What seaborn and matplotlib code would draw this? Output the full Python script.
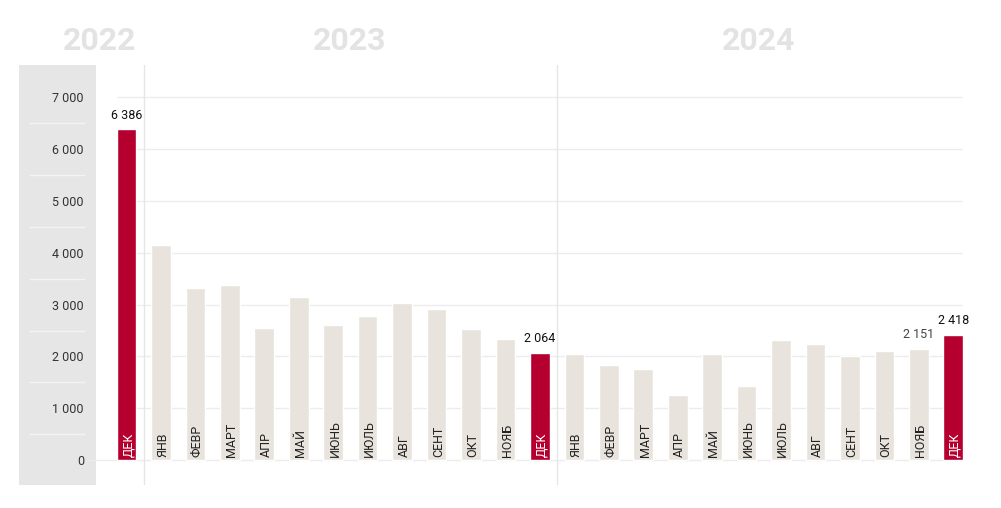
import numpy as np
import pandas as pd
import matplotlib
matplotlib.use("Agg")
import matplotlib.pyplot as plt
import seaborn as sns

# ---- data ----
months = ["ДЕК",
          "ЯНВ", "ФЕВР", "МАРТ", "АПР", "МАЙ", "ИЮНЬ", "ИЮЛЬ", "АВГ", "СЕНТ", "ОКТ", "НОЯБ", "ДЕК",
          "ЯНВ", "ФЕВР", "МАРТ", "АПР", "МАЙ", "ИЮНЬ", "ИЮЛЬ", "АВГ", "СЕНТ", "ОКТ", "НОЯБ", "ДЕК"]
years = [2022] + [2023] * 12 + [2024] * 12
values = [6386,
          4150, 3330, 3380, 2550, 3150, 2600, 2780, 3030, 2920, 2520, 2330, 2064,
          2050, 1840, 1750, 1250, 2050, 1420, 2320, 2230, 2010, 2110, 2151, 2418]
labeled_idx = [0, 12, 23, 24]
year_labels = ["2022", "2023", "2024"]
y_ticks = [0, 1000, 2000, 3000, 4000, 5000, 6000, 7000]

RED = "#b5002f"
BEIGE = "#e8e4dd"

df = pd.DataFrame({
    "key": [f"{m} {y}" for m, y in zip(months, years)],
    "month": months,
    "year": years,
    "value": values,
})
df["kind"] = np.where(df["month"] == "ДЕК", "dec", "other")

sns.set_theme(style="white")
plt.rcParams["font.family"] = ["Roboto", "DejaVu Sans"]

W, H = 1001, 508
fig = plt.figure(figsize=(W / 100, H / 100), dpi=100)
fig.patch.set_facecolor("white")

# axes in pixel geometry
ax_left_px, ax_right_px, ax_top_px, ax_bot_px = 19, 975, 65, 485
ax = fig.add_axes([ax_left_px / W, (H - ax_bot_px) / H,
                   (ax_right_px - ax_left_px) / W, (ax_bot_px - ax_top_px) / H])
ax.set_facecolor("white")

sns.barplot(data=df, x="key", y="value", hue="kind", order=list(df["key"]),
            palette={"dec": RED, "other": BEIGE}, dodge=False, legend=False,
            width=0.57, saturation=1, ax=ax, zorder=3)

# scale geometry
x0_px, step_px = 126.5, 34.45
zero_px, px_per_1000 = 460, 51.8
def px2x(p):
    return (p - x0_px) / step_px
def px2y(p):
    return (zero_px - p) / px_per_1000 * 1000

ax.set_xlim(px2x(ax_left_px), px2x(ax_right_px))
ax.set_ylim(px2y(ax_bot_px), px2y(ax_top_px))

# grey panel on the left
ax.axvspan(px2x(ax_left_px), px2x(96), color="#e6e6e6", zorder=0, lw=0)
ax.hlines([t + 500 for t in y_ticks[:-1]], px2x(29), px2x(85),
          color="#f3f3f3", lw=1, zorder=1)

# grid lines
ax.hlines(y_ticks[1:], px2x(117), px2x(962), color="#ececec", lw=1, zorder=1)
ax.hlines([0], px2x(88), px2x(962), color="#ececec", lw=1, zorder=1)
ax.axvline(0.5, color="#e6e6e6", lw=1, zorder=1)
ax.axvline(12.5, color="#e6e6e6", lw=1, zorder=1)

# y ticks (labels inside grey panel)
ax.set_yticks(y_ticks)
ax.set_yticklabels([f"{t:,}".replace(",", " ") for t in y_ticks])
ax.tick_params(axis="y", length=0, pad=-46.8, labelsize=9, labelcolor="#333333")
for lbl in ax.get_yticklabels():
    lbl.set_horizontalalignment("right")
ax.set_xticks([])
ax.set_xlabel("")
ax.set_ylabel("")
for s in ax.spines.values():
    s.set_visible(False)

# month labels inside bars
for i, (m, k) in enumerate(zip(df["month"], df["kind"])):
    ax.annotate(m, (i, px2y(457)), xytext=(1.3, 0), textcoords="offset points",
                rotation=90, ha="center", va="bottom",
                fontsize=9, color="white" if k == "dec" else "#222222", zorder=5)

# value labels
for i in labeled_idx:
    v = values[i]
    ax.annotate(f"{v:,}".replace(",", " "), (i, v), xytext=(0, 5.5),
                textcoords="offset points", ha="center", va="bottom",
                fontsize=9, color="#444444" if i == 23 else "#111111", zorder=5)

# year headers
for txt, xp in zip(year_labels, [100, 350, 759]):
    fig.text(xp / W, 1 - 41.5 / H, txt, ha="center", va="center",
             fontsize=23, fontweight="bold", color="#e3e3e3")

fig.savefig("out.png", dpi=100, facecolor="white")
